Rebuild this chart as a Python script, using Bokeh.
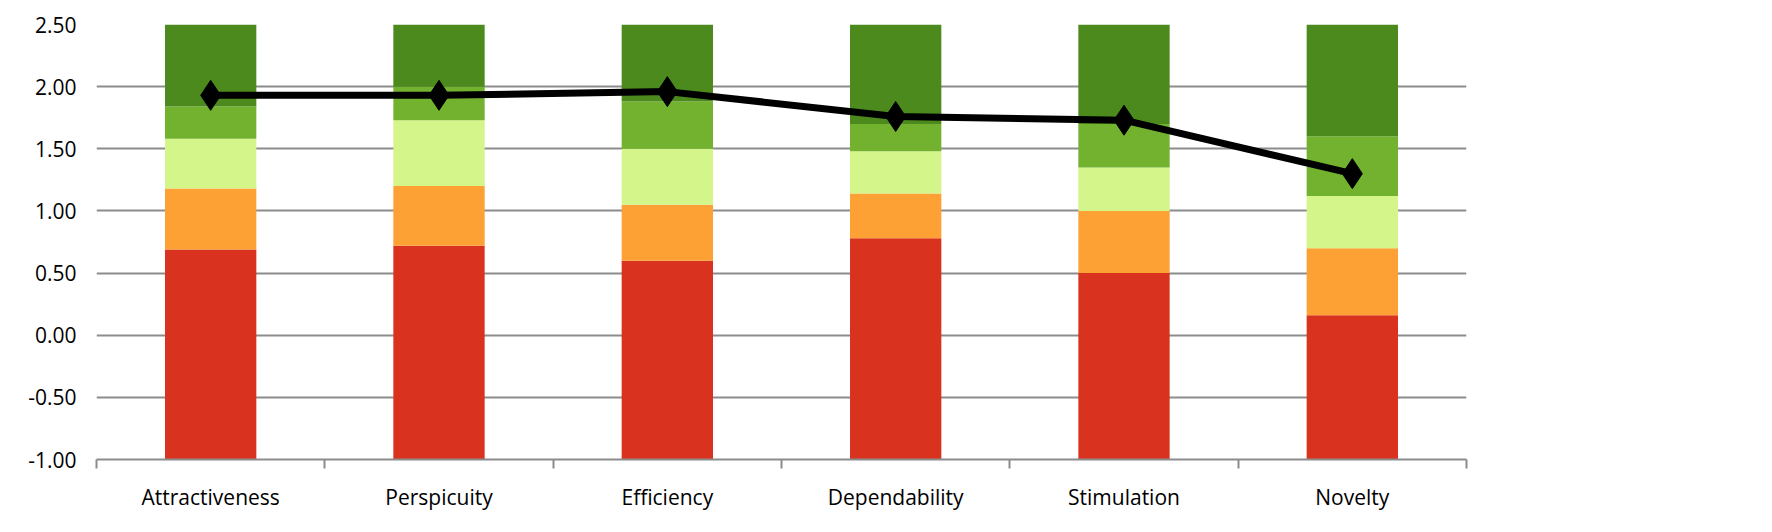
from bokeh.plotting import figure
from bokeh.embed import file_html
from bokeh.resources import INLINE
from bokeh.models import ColumnDataSource, FixedTicker, Legend, LegendItem, NumeralTickFormatter

scales = ["Attractiveness", "Perspicuity", "Efficiency", "Dependability", "Stimulation", "Novelty"]
# upper bounds of the benchmark intervals
bad_top = [0.69, 0.72, 0.60, 0.78, 0.50, 0.16]
below_top = [1.18, 1.20, 1.05, 1.14, 1.00, 0.70]
above_top = [1.58, 1.73, 1.50, 1.48, 1.35, 1.12]
good_top = [1.84, 2.00, 1.88, 1.70, 1.70, 1.60]
mean = [1.93, 1.93, 1.96, 1.76, 1.73, 1.30]
y_min, y_max = -1.0, 2.5

names = ["Bad", "Below Average", "Above Average", "Good", "Excellent"]
colors = ["#d9321f", "#fda134", "#d3f589", "#72b22f", "#4c8a1e"]

x = [i + 0.5 for i in range(len(scales))]
tops = [bad_top, below_top, above_top, good_top, [y_max] * len(scales)]
bottoms = [[y_min] * len(scales)] + tops[:-1]

p = figure(width=1756, height=516, output_backend="svg", toolbar_location=None, tools="",
           x_range=(0, len(scales)), y_range=(y_min, y_max),
           min_border_left=96, min_border_top=24, min_border_bottom=57, min_border_right=290)
p.outline_line_color = None
p.xgrid.visible = False
p.ygrid.grid_line_color = "#8c8c8c"
p.ygrid.grid_line_width = 2
p.ygrid.level = "underlay"

items = []
for name, col, b, t in zip(names, colors, bottoms, tops):
    src = ColumnDataSource(dict(x=x, bottom=b, top=t))
    r = p.vbar(x="x", width=0.4, bottom="bottom", top="top", source=src, fill_color=col, line_color=None)
    items.append(LegendItem(label=name, renderers=[r]))

ms = ColumnDataSource(dict(x=x, y=mean))
l = p.line("x", "y", source=ms, line_color="black", line_width=7)
m = p.scatter("x", "y", source=ms, marker="diamond", size=30, color="black")
items = items[::-1] + [LegendItem(label="Mean", renderers=[l, m])]

p.yaxis.ticker = FixedTicker(ticks=[-1 + 0.5 * i for i in range(8)])
p.yaxis.formatter = NumeralTickFormatter(format="0.00")
p.yaxis.axis_line_color = None
p.yaxis.major_tick_line_color = None
p.yaxis.minor_tick_line_color = None
p.xaxis.ticker = FixedTicker(ticks=x, minor_ticks=list(range(len(scales) + 1)))
p.xaxis.major_label_overrides = {v: s for v, s in zip(x, scales)}
p.xaxis.major_tick_line_color = None
p.xaxis.minor_tick_in = 0
p.xaxis.minor_tick_out = 9
p.xaxis.minor_tick_line_color = "#8c8c8c"
p.xaxis.minor_tick_line_width = 2
p.xaxis.axis_line_color = "#8c8c8c"
p.xaxis.axis_line_width = 2
for ax in (p.xaxis, p.yaxis):
    ax.major_label_text_font = "Open Sans"
    ax.major_label_text_font_size = "21px"
    ax.major_label_text_color = "black"
p.xaxis.major_label_standoff = 14
p.yaxis.major_label_standoff = 14

legend = Legend(items=items, location=(1405, 80), border_line_color=None,
                background_fill_alpha=0,
                label_text_font="Open Sans", label_text_font_size="22px",
                label_text_color="black",
                glyph_width=50, glyph_height=16, spacing=34, label_standoff=6,
                margin=0, padding=0)
p.add_layout(legend, "center")

open("out.html", "w").write(file_html(p, INLINE))
